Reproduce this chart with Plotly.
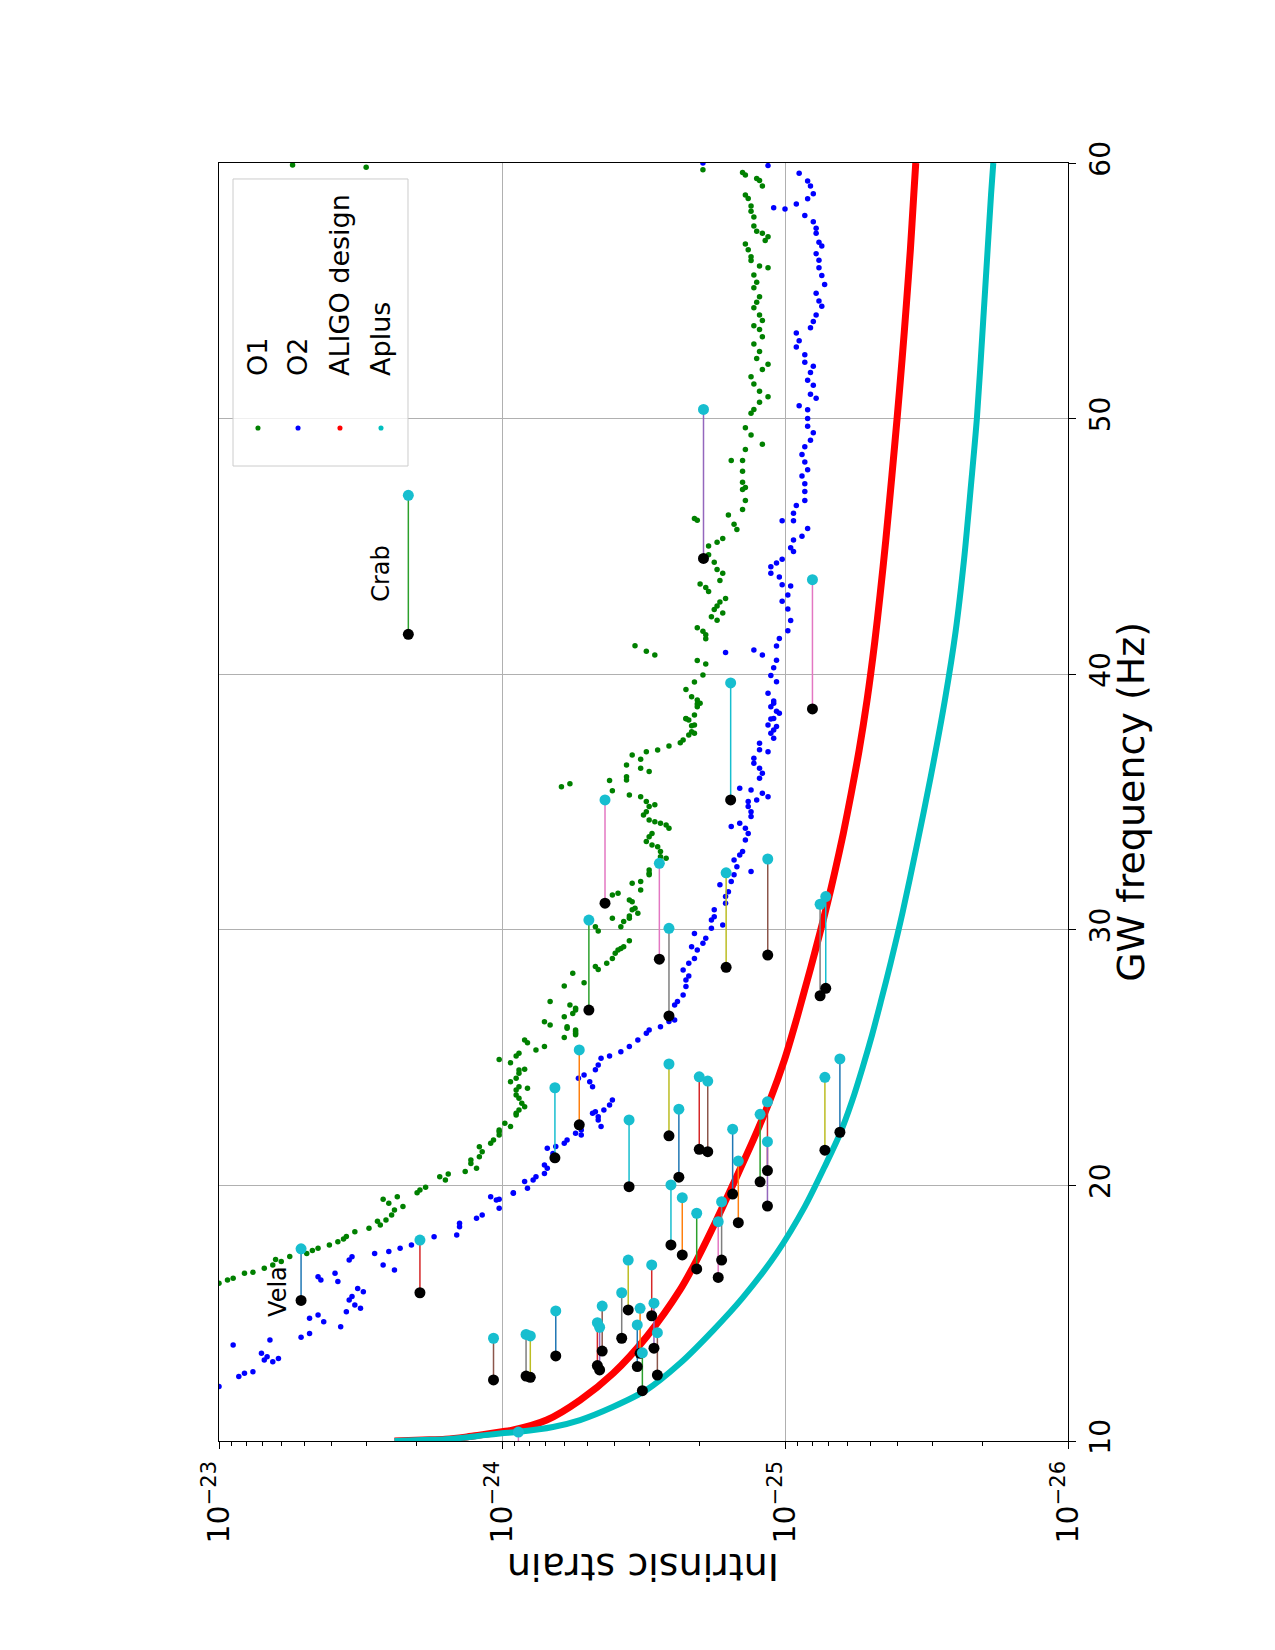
import numpy as np
import plotly.graph_objects as go

# ---------------- data (frequency in Hz, strain as log10 values) ----------------
o1_freq = [16.17, 16.3, 16.37, 16.56, 16.6, 16.76, 16.89, 17.02, 17.1, 17.22, 17.34, 17.45, 17.54, 17.67, 17.80, 17.9, 18.00, 18.19, 18.32, 18.45, 18.6, 18.65, 18.84, 19.04, 19.17, 19.3,
           19.46, 19.56, 19.71, 19.82, 19.93, 20.34, 20.45, 20.21, 20.54, 20.86, 20.67, 20.99, 21.12, 21.32, 21.51, 21.65, 21.78, 21.97, 22.10, 22.17, 22.43, 22.30, 22.75, 22.82, 22.95, 23.08, 23.21, 23.41, 23.54, 23.73, 23.86, 24.06, 24.19, 24.39, 24.51, 24.54, 23.80, 24.93, 24.80, 25.06, 25.17, 25.69, 25.58, 25.30, 25.43, 26.28, 26.40, 25.79, 26.21, 25.95, 26.08, 26.73, 26.86, 27.06, 27.19,
           35.60, 35.71, 28.30, 27.80, 27.93, 26.93, 26.60, 26.15, 26.02, 25.89,
           30.12, 29.95, 28.56, 28.45, 28.69, 28.88, 29.08, 29.21, 29.27, 29.34, 29.57, 30.12, 30.32, 30.45, 30.54, 30.84, 31.17, 31.10, 30.65, 30.78, 30.45,
           35.84, 35.44, 31.36, 31.43, 36.45, 36.84, 36.67, 36.97, 36.32, 36.19, 35.99, 35.86,
           37.03, 37.19, 37.32, 37.43, 37.62, 37.75, 37.69, 38.01, 38.21, 38.27, 38.40, 38.73, 38.86, 38.99,
           35.27, 35.21, 35.02, 34.82, 34.89, 34.62, 34.49, 34.30, 33.77, 33.64, 33.45, 33.32, 33.25, 33.06, 34.10, 33.97, 34.17, 34.23, 32.86, 32.80, 32.34, 32.15, 31.89, 31.56, 31.82, 32.21,
           59.92, 59.83, 59.74, 59.63, 59.53, 59.39, 59.10, 59.32, 58.75, 58.61, 58.32, 58.11, 57.89, 57.54, 57.33, 57.25, 57.11, 56.97, 56.83, 56.61, 56.33, 56.19, 55.97, 55.90, 55.62, 55.33, 55.12, 54.77, 54.55, 54.34, 54.05, 53.84, 53.63, 53.49, 53.20, 52.92, 52.63, 52.35, 52.13, 51.92, 51.64, 51.35, 51.07, 50.85, 50.64, 50.36, 50.21, 49.64, 49.36, 49.00, 48.79, 48.36, 48.36, 47.94, 47.51, 47.23, 47.30, 46.80, 46.44, 46.09, 46.02, 46.23, 45.87, 45.66, 45.31, 45.16, 45.02, 44.67, 44.38, 44.10, 43.95, 43.67, 43.53, 43.39, 43.24, 42.96, 42.82, 42.67, 42.53, 42.25, 42.11, 42.39, 41.82, 41.68, 41.54, 41.39, 41.11, 40.90, 40.75, 40.54, 40.40, 39.97, 39.69, 39.40, 39.12, 38.83, 38.26, 37.98]
o1_log_h = [-23.00, -23.03, -23.05, -23.09, -23.12, -23.16, -23.19, -23.22, -23.20, -23.25, -23.31, -23.33, -23.35, -23.39, -23.42, -23.44, -23.45, -23.48, -23.53, -23.57, -23.56, -23.59, -23.61, -23.62, -23.65, -23.60,
            -23.58, -23.63, -23.70, -23.71, -23.73, -23.78, -23.81, -23.80, -23.87, -23.89, -23.91, -23.89, -23.92, -23.93, -23.92, -23.96, -23.97, -23.99, -23.99, -23.99, -24.01, -24.03, -24.05, -24.05, -24.06, -24.08, -24.07, -24.06, -24.05, -24.05, -24.06, -24.03, -24.05, -24.06, -24.06, -24.08, -24.09, -23.99, -24.03, -24.05, -24.06, -24.08, -24.09, -24.12, -24.15, -24.17, -24.15, -24.22, -24.23, -24.26, -24.26, -24.25, -24.26, -24.24, -24.17,
            -24.21, -24.24, -24.25, -24.22, -24.29, -24.26, -24.22, -24.23, -24.26, -24.26,
            -24.33, -24.34, -24.33, -24.34, -24.37, -24.39, -24.40, -24.41, -24.42, -24.43, -24.45, -24.42, -24.43, -24.45, -24.45, -24.47, -24.45, -24.46, -24.48, -24.46, -24.39,
            -24.38, -24.39, -24.39, -24.41, -24.44, -24.46, -24.49, -24.51, -24.49, -24.52, -24.44, -24.44,
            -24.55, -24.59, -24.63, -24.64, -24.66, -24.67, -24.68, -24.68, -24.66, -24.65, -24.68, -24.69, -24.70, -24.69,
            -24.45, -24.49, -24.51, -24.52, -24.54, -24.51, -24.50, -24.52, -24.53, -24.52, -24.51, -24.53, -24.55, -24.56, -24.58, -24.59, -24.56, -24.54, -24.56, -24.58, -24.52, -24.52, -24.49, -24.49, -24.46, -24.52,
            -23.26, -23.52, -24.71, -24.85, -24.86, -24.90, -24.92, -24.91, -24.86, -24.87, -24.88, -24.88, -24.89, -24.89, -24.90, -24.92, -24.94, -24.93, -24.86, -24.87, -24.88, -24.88, -24.91, -24.94, -24.89, -24.90, -24.89, -24.91, -24.90, -24.89, -24.91, -24.92, -24.89, -24.91, -24.92, -24.89, -24.91, -24.90, -24.94, -24.92, -24.88, -24.89, -24.91, -24.94, -24.91, -24.89, -24.88, -24.86, -24.88, -24.92, -24.86, -24.85, -24.81, -24.85, -24.85, -24.85, -24.86, -24.86, -24.85, -24.68, -24.69, -24.80, -24.82, -24.83, -24.78, -24.76, -24.73, -24.73, -24.75, -24.76, -24.78, -24.77, -24.70, -24.72, -24.73, -24.79, -24.77, -24.76, -24.75, -24.74, -24.76, -24.78, -24.69, -24.71, -24.72, -24.72, -24.47, -24.51, -24.54, -24.69, -24.72, -24.71, -24.68, -24.65, -24.67, -24.69, -24.65, -24.67]

o2_freq = [12.13, 13.76, 12.52, 12.65, 12.71, 13.43, 13.17, 13.30, 13.95, 13.10, 13.23, 14.06, 14.21, 14.80, 14.93, 14.67, 16.43, 16.30, 16.56, 16.24, 14.47, 15.06, 15.52, 15.65, 15.32, 15.19, 15.97, 15.84, 17.08, 17.21, 17.34, 16.89, 16.69, 17.41, 17.54, 17.67, 17.86, 17.99, 18.06, 18.38, 18.52, 18.71, 18.84, 19.56, 19.43, 19.11, 19.69, 19.89, 20.21, 20.47, 20.80, 21.06, 21.78, 21.97, 22.17, 22.82, 22.56, 22.30, 22.95, 23.15, 23.34,
           19.46, 19.71, 20.15, 20.34, 20.67, 21.45, 21.25, 21.52, 21.65, 22.04, 24.19, 24.32, 24.06, 23.86, 24.52, 24.71, 22.88, 22.69,
           24.97, 25.06, 25.23, 25.43, 25.69, 25.95, 26.08, 26.21, 26.41, 26.47, 27.06, 27.19, 27.45, 27.78, 28.04, 28.19, 28.43, 28.69, 28.88, 29.21, 29.34, 29.47, 29.86, 29.67, 30.06, 30.38, 30.51, 30.78, 30.19, 31.04, 31.30, 31.49, 31.76, 31.89, 32.15, 32.47, 32.73, 32.93, 33.06, 32.28, 33.51, 33.77, 33.97, 34.17, 34.04, 34.43, 34.62, 34.82, 35.02, 35.08, 35.34, 35.21, 35.47, 35.54, 35.93, 36.12, 36.32, 36.52, 36.71, 37.04, 36.97, 37.30, 37.69, 37.49, 37.82, 38.01, 38.27, 38.47, 38.73, 38.86,
           59.6, 59.3, 59.1, 58.8, 58.6, 58.4, 58.2, 58.25, 57.95, 57.7, 57.45, 57.25, 56.9, 56.75, 56.45, 56.2, 55.9, 55.6, 55.25, 54.9, 54.6, 54.4, 54.05, 53.8, 53.55, 53.35, 53.05, 52.8, 52.5, 52.2, 52.05, 51.8, 51.5, 51.3, 50.95, 50.8, 50.5, 50.35, 50.0, 49.7, 49.45, 49.15, 48.9, 48.6, 48.3, 48.0, 47.75, 47.45, 47.15, 46.8, 46.6, 46.3, 46.0, 46.0, 45.7, 45.4, 45.25, 44.95, 44.8, 44.5, 44.35, 44.2, 43.95, 43.8, 43.5, 43.45, 43.1, 42.85, 42.55, 42.1, 41.7, 41.4, 41.1, 40.55, 40.25, 39.95, 39.7, 39.25, 38.95, 38.55, 38.25, 37.95,
           60.0, 59.9, 40.85, 40.95, 40.75]
o2_log_h = [-23.00, -23.05, -23.07, -23.09, -23.12, -23.15, -23.16, -23.17, -23.18, -23.19, -23.21, -23.29, -23.32, -23.32, -23.35, -23.37, -23.35, -23.36, -23.41, -23.42, -23.43, -23.45, -23.46, -23.47, -23.48, -23.50, -23.49, -23.51, -23.46, -23.47, -23.55, -23.58, -23.62, -23.60, -23.64, -23.68, -23.71, -23.76, -23.84, -23.85, -23.85, -23.91, -23.93, -23.96, -23.98, -23.99, -24.04, -24.09, -24.11, -24.15, -24.15, -24.18, -24.23, -24.28, -24.28, -24.32, -24.34, -24.35, -24.36, -24.38, -24.39,
            -23.99, -24.04, -24.08, -24.12, -24.16, -24.16, -24.18, -24.19, -24.22, -24.26, -24.27, -24.29, -24.31, -24.32, -24.33, -24.34, -24.33, -24.34,
            -24.35, -24.38, -24.42, -24.45, -24.48, -24.51, -24.52, -24.56, -24.59, -24.61, -24.61, -24.62, -24.64, -24.65, -24.65, -24.66, -24.64, -24.66, -24.68, -24.69, -24.67, -24.71, -24.68, -24.72, -24.74, -24.74, -24.75, -24.75, -24.78, -24.79, -24.79, -24.80, -24.77, -24.81, -24.82, -24.83, -24.82, -24.84, -24.85, -24.88, -24.86, -24.87, -24.86, -24.84, -24.81, -24.88, -24.88, -24.87, -24.87, -24.90, -24.92, -24.94, -24.88, -24.84, -24.91, -24.92, -24.91, -24.89, -24.89, -24.91, -24.94, -24.91, -24.95, -24.96, -24.96, -24.94, -24.96, -24.98, -24.95, -24.96,
            -25.05, -25.08, -25.09, -25.10, -25.08, -25.04, -25.00, -24.96, -25.07, -25.10, -25.11, -25.11, -25.12, -25.13, -25.11, -25.12, -25.12, -25.13, -25.14, -25.11, -25.12, -25.13, -25.11, -25.10, -25.09, -25.04, -25.05, -25.04, -25.07, -25.07, -25.10, -25.09, -25.08, -25.10, -25.09, -25.11, -25.05, -25.08, -25.08, -25.08, -25.10, -25.09, -25.07, -25.06, -25.07, -25.08, -25.06, -25.07, -25.07, -25.07, -25.04, -25.03, -25.03, -24.99, -25.08, -25.06, -25.03, -25.02, -25.03, -24.99, -24.97, -24.95, -24.95, -24.98, -24.99, -25.02, -25.01, -24.99, -25.01, -25.02, -25.01, -24.98, -24.97, -24.97, -24.96, -24.95, -24.97, -24.94, -24.96, -24.97, -24.95, -24.97,
            -24.71, -24.94, -24.79, -24.89, -24.92]

aligo_freq = [10.0, 10.04, 10.07, 10.15, 10.23, 10.36, 10.43, 10.82, 11.6, 12.65, 14.08, 15.91, 17.08, 18.65, 20.34, 21.78, 23.34, 24.91, 26.47, 27.39, 28.56, 29.86, 31.04, 32.21, 33.77, 35.34, 37.03, 38.99, 41.25, 43.10, 45.23, 47.80, 50.0, 52.35, 54.48, 56.61, 58.75, 60.0]
aligo_log_h = [-23.62, -23.72, -23.80, -23.87, -23.92, -24.00, -24.04, -24.158, -24.276, -24.393, -24.511, -24.629, -24.688, -24.758, -24.829, -24.888, -24.947, -24.998, -25.04, -25.063, -25.092, -25.123, -25.15, -25.175, -25.206, -25.234, -25.262, -25.29, -25.317, -25.336, -25.356, -25.378, -25.396, -25.414, -25.429, -25.443, -25.455, -25.462]

aplus_freq = [10.0, 10.04, 10.07, 10.15, 10.23, 10.3, 10.36, 10.55, 10.82, 11.34, 12.0, 13.04, 14.34, 15.6, 17.34, 19.17, 20.73, 22.04, 23.3, 24.64, 25.9, 27.25, 28.69, 30.65, 33.25, 35.99, 38.99, 41.68, 44.52, 47.37, 50.0, 53.77, 56.61, 58.75, 60.0]
aplus_log_h = [-23.62, -23.72, -23.80, -23.88, -23.94, -24.00, -24.06, -24.18, -24.276, -24.393, -24.511, -24.629, -24.747, -24.85, -24.97, -25.07, -25.14, -25.195, -25.237, -25.275, -25.308, -25.34, -25.373, -25.415, -25.465, -25.515, -25.565, -25.603, -25.633, -25.657, -25.678, -25.70, -25.716, -25.728, -25.736]

# pulsars: strain (log10), lower (black) and upper (cyan) GW frequency, stem colour
pulsar_log_h = [-23.29, -23.71, -23.97, -24.085, -24.10, -24.19, -24.337, -24.345, -24.354, -24.187, -24.273, -24.449, -24.59, -24.625, -24.697, -24.727, -24.815, -24.835, -24.597, -24.637, -24.688, -24.764, -24.776, -24.446, -24.423, -24.529, -24.488, -24.478, -24.496, -24.537, -24.549, -24.912, -24.938, -24.938, -25.141, -25.194, -24.808, -24.364, -24.307, -24.556, -24.59, -24.792, -24.939, -25.124, -25.144, -25.097, -24.712, -23.669, -24.058]
pulsar_f_black = [15.50, 15.80, 12.39, 12.54, 12.49, 13.33, 12.95, 12.78, 13.52, 21.08, 22.37, 19.95, 21.94, 20.32, 21.41, 21.32, 19.66, 18.54, 17.67, 17.28, 16.73, 16.40, 17.08, 15.13, 14.02, 14.90, 13.43, 12.91, 11.97, 13.63, 12.58, 20.14, 20.58, 19.19, 21.38, 22.08, 35.08, 31.04, 26.86, 28.85, 26.63, 28.53, 29.01, 27.42, 27.71, 38.64, 44.53, 41.56, 9.15]
pulsar_f_cyan = [17.52, 17.86, 14.02, 14.17, 14.11, 15.09, 14.63, 14.45, 15.28, 23.82, 25.30, 22.56, 24.75, 22.98, 24.25, 24.08, 22.20, 20.95, 20.02, 19.52, 18.91, 18.58, 19.36, 17.08, 15.80, 16.89, 15.19, 14.54, 13.45, 15.39, 14.24, 22.78, 23.27, 21.71, 24.23, 24.95, 39.66, 35.08, 30.38, 32.60, 30.06, 32.23, 32.77, 31.00, 31.30, 43.70, 50.36, 47.00, 10.35]
pulsar_colour = ["blue", "red", "brown", "gray", "olive", "blue", "red", "purple", "brown",
                 "cyan", "orange", "cyan", "olive", "blue", "red", "brown", "blue", "orange",
                 "cyan", "orange", "green", "pink", "gray", "olive", "gray", "red", "orange",
                 "blue", "green", "purple", "brown", "green", "red", "purple", "olive", "blue",
                 "cyan", "pink", "green", "pink", "gray", "olive", "brown", "gray", "cyan",
                 "pink", "purple", "green", "pink"]

labels = ["Vela", "Crab"]
label_log_h = [-23.21, -23.572]
label_freq = [15.85, 43.96]

strain_ticks = [1e-23, 1e-24, 1e-25, 1e-26]
strain_tick_text = ["10<sup>\u221223</sup>", "10<sup>\u221224</sup>", "10<sup>\u221225</sup>", "10<sup>\u221226</sup>"]
freq_ticks = [10, 20, 30, 40, 50, 60]
legend_names = ["O1", "O2", "ALIGO design", "Aplus"]
legend_colours = ["#008000", "#0000ff", "#ff0000", "#00bfbf"]

# ---------------- figure ----------------
tab10 = {"blue": "#1f77b4", "orange": "#ff7f0e", "green": "#2ca02c", "red": "#d62728",
         "purple": "#9467bd", "brown": "#8c564b", "pink": "#e377c2", "gray": "#7f7f7f",
         "olive": "#bcbd22", "cyan": "#17becf"}

fig = go.Figure()
fig.add_trace(go.Scatter(x=10 ** np.array(o1_log_h), y=o1_freq, mode="markers",
                         marker=dict(color="#008000", size=5.5), name="O1"))
fig.add_trace(go.Scatter(x=10 ** np.array(o2_log_h), y=o2_freq, mode="markers",
                         marker=dict(color="#0000ff", size=5.5), name="O2"))
fig.add_trace(go.Scatter(x=10 ** np.array(aligo_log_h), y=aligo_freq, mode="lines",
                         line=dict(color="#ff0000", width=7, shape="spline", smoothing=0.8),
                         name="ALIGO design"))
fig.add_trace(go.Scatter(x=10 ** np.array(aplus_log_h), y=aplus_freq, mode="lines",
                         line=dict(color="#00bfbf", width=6, shape="spline", smoothing=0.8),
                         name="Aplus"))

pulsar_h = 10 ** np.array(pulsar_log_h)
for h, fb, fc, c in zip(pulsar_h, pulsar_f_black, pulsar_f_cyan, pulsar_colour):
    fig.add_trace(go.Scatter(x=[h, h], y=[fb, fc], mode="lines",
                             line=dict(color=tab10[c], width=1.5), hoverinfo="skip"))
fig.add_trace(go.Scatter(x=pulsar_h, y=pulsar_f_black, mode="markers",
                         marker=dict(color="black", size=11)))
fig.add_trace(go.Scatter(x=pulsar_h, y=pulsar_f_cyan, mode="markers",
                         marker=dict(color="#17becf", size=11)))

annotations = []
for t, lx, ly in zip(labels, label_log_h, label_freq):
    annotations.append(dict(text=t, x=lx, y=ly, xref="x", yref="y", showarrow=False,
                            textangle=-90, font=dict(size=24, color="black"),
                            xanchor="center", yanchor="middle"))

annotations.append(dict(text="Intrinsic strain", x=0.5, y=-0.099, xref="paper", yref="paper",
                        showarrow=False, textangle=180, font=dict(size=38, color="black"),
                        xanchor="center", yanchor="middle"))
annotations.append(dict(text="GW frequency (Hz)", x=1.074, y=0.5, xref="paper", yref="paper",
                        showarrow=False, textangle=-90, font=dict(size=38, color="black"),
                        xanchor="center", yanchor="middle"))

shapes = [dict(type="rect", xref="paper", yref="paper", x0=0.0165, x1=0.2226, y0=0.7629, y1=0.9875,
               line=dict(color="#cccccc", width=1), fillcolor="rgba(255,255,255,0.8)", layer="above")]
leg_x = [0.0459, 0.0931, 0.1425, 0.1908]
for name, col, lx in zip(legend_names, legend_colours, leg_x):
    annotations.append(dict(text=name, x=lx, y=0.8318, xref="paper", yref="paper", showarrow=False,
                            textangle=-90, font=dict(size=27, color="black"),
                            xanchor="center", yanchor="bottom"))
    shapes.append(dict(type="circle", xref="paper", yref="paper",
                       x0=lx - 0.003, x1=lx + 0.003, y0=0.7926 - 0.002, y1=0.7926 + 0.002,
                       fillcolor=col, line=dict(width=0), layer="above"))

minor_vals = [m * 10.0 ** e for e in (-24, -25, -26) for m in range(2, 10)]

fig.update_layout(
    width=1275, height=1650,
    margin=dict(l=219, r=207, t=163, b=209),
    paper_bgcolor="white", plot_bgcolor="white",
    showlegend=False,
    font=dict(family="DejaVu Sans", color="black"),
    annotations=annotations, shapes=shapes,
    xaxis=dict(type="log", range=[-23, -26], autorange=False,
               tickmode="array", tickvals=strain_ticks, ticktext=strain_tick_text,
               tickangle=-90, ticks="outside", ticklen=7, tickwidth=1, tickcolor="black",
               tickfont=dict(size=30, color="black"),
               showline=True, mirror=True, linecolor="black", linewidth=1,
               showgrid=True, gridcolor="#b0b0b0", gridwidth=1, zeroline=False,
               minor=dict(tickvals=minor_vals, ticks="outside", ticklen=4, tickcolor="black",
                          tickwidth=1, showgrid=False)),
    yaxis=dict(range=[10, 60], autorange=False, side="right",
               tickmode="array", tickvals=freq_ticks,
               tickangle=-90, ticks="outside", ticklen=7, tickwidth=1, tickcolor="black",
               tickfont=dict(size=28, color="black"),
               showline=True, mirror=True, linecolor="black", linewidth=1,
               showgrid=True, gridcolor="#b0b0b0", gridwidth=1, zeroline=False),
)

fig.write_html("out.html")
